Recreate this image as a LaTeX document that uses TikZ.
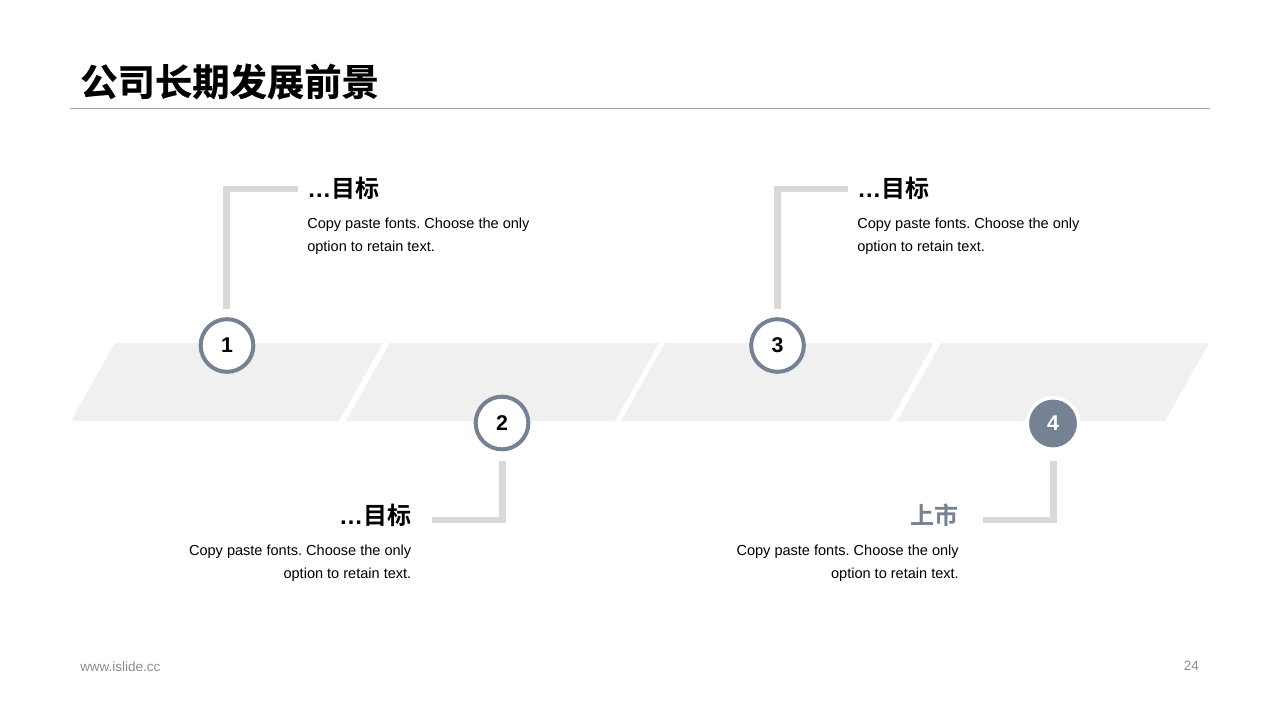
\documentclass[tikz,border=0pt]{standalone}
\usepackage{fontspec}
\setmainfont{Liberation Sans}
\newfontfamily\cjk{Noto Sans CJK SC}[BoldFont={Noto Sans CJK SC Bold}]
\newfontfamily\cjktitle{Noto Sans CJK SC Bold}[FakeBold=0.6]
\definecolor{slate}{HTML}{748294}
\definecolor{band}{HTML}{F0F0F0}
\definecolor{elbow}{HTML}{D9D9D9}
\definecolor{rulegray}{HTML}{A6A6A6}
\definecolor{foot}{HTML}{8C8C8C}
\definecolor{ink}{HTML}{000000}
\tikzset{
  x=0.75pt,y=-0.75pt,
  bandshape/.style={fill=band,draw=none},
  elbowline/.style={draw=elbow,line width=4.9pt,line cap=butt,line join=miter},
  ringnode/.style={circle,draw=slate,line width=3pt,fill=white,minimum size=39.5pt,inner sep=0pt,font=\fontsize{16pt}{18pt}\selectfont\bfseries,text=ink},
  fillnode/.style={circle,draw=white,line width=2.5pt,fill=slate,minimum size=38.5pt,inner sep=0pt,font=\fontsize{16pt}{18pt}\selectfont\bfseries,text=white},
  headl/.style={anchor=west,inner sep=0pt,font=\fontsize{18pt}{22pt}\selectfont\cjk\bfseries,text=ink},
  headr/.style={anchor=east,inner sep=0pt,font=\fontsize{18pt}{22pt}\selectfont\cjk\bfseries,text=ink},
  bodyl/.style={anchor=west,inner sep=0pt,align=left,font=\fontsize{10.9pt}{17.25pt}\selectfont\frenchspacing,text=ink},
  bodyr/.style={anchor=east,inner sep=0pt,align=right,font=\fontsize{10.9pt}{17.25pt}\selectfont\frenchspacing,text=ink},
  footnode/.style={inner sep=0pt,font=\fontsize{10.1pt}{12pt}\selectfont,text=foot}
}
\newcommand{\dotsgoal}{{\fontspec{Liberation Sans Bold}…}目标}
\begin{document}
\begin{tikzpicture}
\useasboundingbox (0,0) rectangle (1280,720);
% title
\node[anchor=west,inner sep=0pt,font=\fontsize{28pt}{32pt}\selectfont\cjktitle,text=ink] (title) at (80,81.5) {公司长期发展前景};
\coordinate (ruleA) at (70,108.5);
\coordinate (ruleB) at (1210,108.5);
\draw[rulegray,line width=0.75pt] (ruleA) -- (ruleB);
% bands
\fill[bandshape] (71,421) -- (115,343) -- (383,343) -- (339,421) -- cycle;
\fill[bandshape] (346,421) -- (390,343) -- (659,343) -- (615,421) -- cycle;
\fill[bandshape] (621,421) -- (665,343) -- (934,343) -- (890,421) -- cycle;
\fill[bandshape] (897,421) -- (941,343) -- (1209,343) -- (1165,421) -- cycle;
% markers
\node[ringnode] (n1) at (227,345.5) {1};
\node[ringnode] (n2) at (502,423) {2};
\node[ringnode] (n3) at (777.5,345.5) {3};
\node[fillnode] (n4) at (1053,423.5) {4};
% connector ends
\coordinate (e1a) at (226.7,309);
\coordinate (e1b) at (226.7,189);
\coordinate (e1c) at (298,189);
\coordinate (e2a) at (502.5,461);
\coordinate (e2b) at (502.5,520);
\coordinate (e2c) at (432,520);
\coordinate (e3a) at (777.3,309);
\coordinate (e3b) at (777.3,189);
\coordinate (e3c) at (848,189);
\coordinate (e4a) at (1053.3,461);
\coordinate (e4b) at (1053.3,520);
\coordinate (e4c) at (983,520);
\draw[elbowline] (e1a) -- (e1b) -- (e1c);
\draw[elbowline] (e2a) -- (e2b) -- (e2c);
\draw[elbowline] (e3a) -- (e3b) -- (e3c);
\draw[elbowline] (e4a) -- (e4b) -- (e4c);
% texts
\node[headl] (h1) at (307,188.5) {\dotsgoal};
\node[bodyl] (b1) at (307,236.5) {Copy paste fonts. Choose the only\\option to retain text.};
\node[headl] (h3) at (857,188.5) {\dotsgoal};
\node[bodyl] (b3) at (857,236.5) {Copy paste fonts. Choose the only\\option to retain text.};
\node[headr] (h2) at (411.5,515.5) {\dotsgoal};
\node[bodyr] (b2) at (411.5,563.5) {Copy paste fonts. Choose the only\\option to retain text.};
\node[headr,text=slate] (h4) at (959,515.5) {上市};
\node[bodyr] (b4) at (959,563.5) {Copy paste fonts. Choose the only\\option to retain text.};
% footer
\node[footnode,anchor=west] (url) at (80,666.5) {www.islide.cc};
\node[footnode,anchor=east] (page) at (1199,666) {24};
\end{tikzpicture}
\end{document}
